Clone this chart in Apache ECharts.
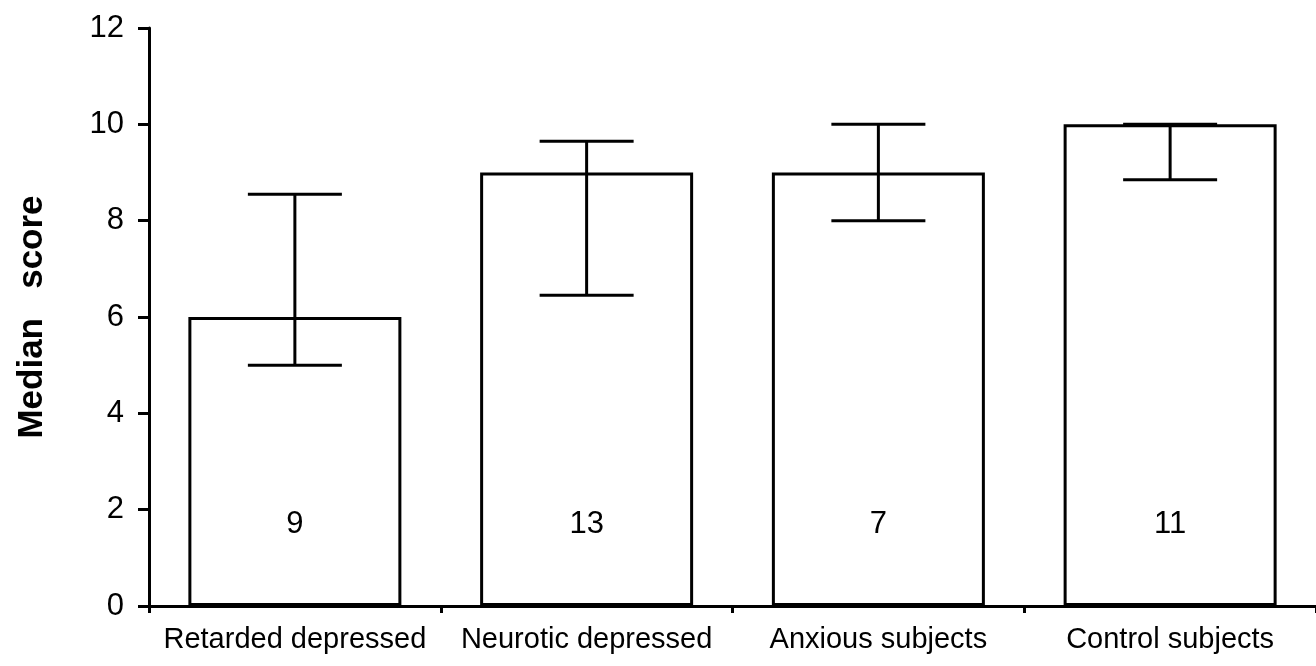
<!DOCTYPE html>
<html><head><meta charset="utf-8">
<script src="https://cdn.jsdelivr.net/npm/echarts@6/dist/echarts.min.js"></script>
<style>html,body{margin:0;padding:0;background:#fff}#c{width:1316px;height:666px}</style>
</head><body><div id="c"></div>
<script>
const categories = ['Retarded depressed', 'Neurotic depressed', 'Anxious subjects', 'Control subjects'];
const medians = [6, 9, 9, 10];
const lowerQ = [5, 6.45, 8, 8.85];
const upperQ = [8.55, 9.65, 10, 10];
const nLabels = ['9', '13', '7', '11'];
const yTicks = [0, 2, 4, 6, 8, 10, 12];

const chart = echarts.init(document.getElementById('c'));
const font = 'Liberation Sans, Arial, sans-serif';
chart.setOption({
  animation: false,
  grid: { left: 149, top: 28, bottom: 60, width: 1176 },
  xAxis: {
    type: 'category', data: categories, boundaryGap: true,
    axisLine: { lineStyle: { color: '#000', width: 3 } },
    axisTick: { show: true, interval: 0, length: 7, inside: false, lineStyle: { color: '#000', width: 3 } },
    axisLabel: { color: '#000', fontSize: 29, fontFamily: font, margin: 19, interval: 0, hideOverlap: false }
  },
  yAxis: {
    type: 'value', min: 0, max: 12, interval: 2,
    name: 'Median   score', nameLocation: 'middle', nameGap: 99, nameRotate: 90,
    nameTextStyle: { color: '#000', fontSize: 35, fontWeight: 'bold', fontFamily: font },
    axisLine: { show: true, lineStyle: { color: '#000', width: 3 } },
    axisTick: { show: true, length: 11, lineStyle: { color: '#000', width: 3 } },
    axisLabel: { color: '#000', fontSize: 31, fontFamily: font, margin: 25,
      formatter: v => yTicks.includes(v) ? String(v) : '' },
    splitLine: { show: false }
  },
  series: [
    {
      type: 'bar', data: medians, barWidth: 213,
      itemStyle: { color: '#fff', borderColor: '#000', borderWidth: 3 },
      label: { show: true, position: 'insideBottom', distance: 66, color: '#000', fontSize: 31, fontFamily: font,
        formatter: p => nLabels[p.dataIndex] },
      z: 2
    },
    {
      type: 'custom',
      data: categories.map((c, i) => [i, lowerQ[i], upperQ[i]]),
      renderItem: function (params, api) {
        const i = api.value(0);
        const lo = api.coord([i, api.value(1)]);
        const hi = api.coord([i, api.value(2)]);
        const hw = 47;
        const st = { stroke: '#000', lineWidth: 3, fill: null };
        return { type: 'group', children: [
          { type: 'line', shape: { x1: lo[0], y1: lo[1], x2: hi[0], y2: hi[1] }, style: st },
          { type: 'line', shape: { x1: lo[0] - hw, y1: lo[1], x2: lo[0] + hw, y2: lo[1] }, style: st },
          { type: 'line', shape: { x1: hi[0] - hw, y1: hi[1], x2: hi[0] + hw, y2: hi[1] }, style: st }
        ]};
      },
      z: 3
    }
  ]
});
</script></body></html>
